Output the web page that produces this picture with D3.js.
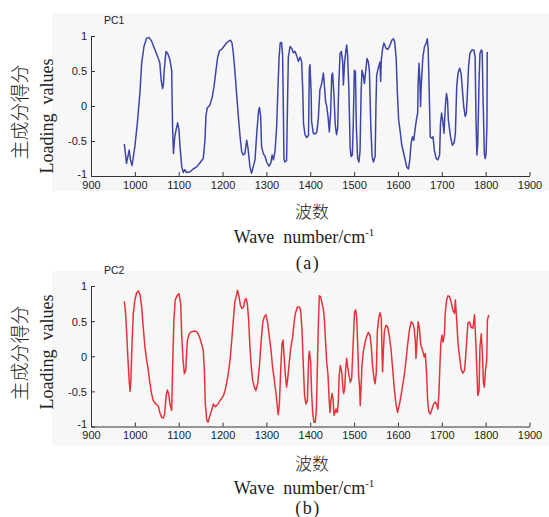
<!DOCTYPE html>
<html>
<head>
<meta charset="utf-8">
<script src="https://cdn.jsdelivr.net/npm/d3@7"></script>
<style>
  html, body { margin: 0; padding: 0; background: #ffffff; }
  svg { display: block; }
</style>
</head>
<body>
<svg id="chart" width="549" height="517"></svg>
<script>
// ---------- DATA ----------
const xTicks = [900, 1000, 1100, 1200, 1300, 1400, 1500, 1600, 1700, 1800, 1900];
const yTicks = [-1, -0.5, 0, 0.5, 1];
const yTickLabels = ["-1", "-0.5", "0", "0.5", "1"];

const pc1Wavenumbers = [976,981,987,990,993.5,1000,1005.6,1011.7,1015.5,1020.8,1027,1032,1038,1046,1053.5,1057,1060,1063,1065,1067,1071,1075,1080,1084,1086,1088,1091,1094,1097.6,1100.6,1103,1107,1110.6,1114,1118,1126,1133,1141,1148.6,1156,1160,1162,1165,1171,1176.6,1180.6,1185,1189,1193,1198,1203,1209,1215,1218,1221.6,1224.6,1228,1232,1236,1240,1243.6,1247,1251,1255,1258,1262.5,1266,1270,1274,1278,1282,1284,1287,1289,1293,1297,1300.6,1306,1310,1313,1316,1319.6,1323.4,1326,1329,1331.5,1334.5,1337,1338.6,1340,1342,1346,1348,1350,1354,1358,1361.5,1365,1369,1373,1377,1380.4,1383,1384.6,1388,1392,1396,1398,1399.4,1402,1403,1407,1411,1415,1418.4,1422,1426,1430,1432,1435,1437.5,1441,1443.5,1446.6,1449,1451,1454,1457,1460,1462.5,1465,1468,1471,1474,1475.5,1478,1481,1483,1485,1488,1491,1493,1496,1498,1500.5,1503,1505,1508,1511,1513.5,1516,1518,1521,1523.4,1526.4,1529.4,1532.5,1535,1538,1541,1544,1548,1550,1551.5,1555,1559,1560.6,1562,1565,1568,1573,1577,1582,1586,1589.5,1592.5,1596,1598.6,1601.6,1605,1608.5,1614,1620,1624,1627,1630,1633,1636,1639,1642,1645,1646,1648,1650,1651.5,1653,1656.8,1660.6,1664.4,1667,1669,1671,1673.6,1677,1680,1683,1687,1691,1695,1697,1699.5,1702,1705,1708,1710.6,1713,1715,1717,1720,1724,1728,1731,1734,1737,1740.6,1744,1747,1750,1753.4,1756,1758,1761,1764,1769,1773,1776,1778,1780,1782,1785,1787,1790,1792,1794.4,1797,1799,1801,1803,1803.6];
const pc1Loadings = [-0.54,-0.82,-0.63,-0.77,-0.85,-0.58,-0.25,0.2,0.61,0.85,0.97,0.98,0.93,0.8,0.68,0.61,0.37,0.25,0.3,0.51,0.78,0.75,0.66,0.51,-0.3,-0.68,-0.44,-0.34,-0.24,-0.34,-0.58,-0.87,-0.95,-0.91,-0.95,-0.94,-0.9,-0.87,-0.81,-0.75,-0.49,-0.15,-0.03,0.01,0.13,0.28,0.51,0.7,0.79,0.81,0.85,0.9,0.93,0.94,0.9,0.75,0.51,0.18,-0.15,-0.44,-0.65,-0.7,-0.68,-0.49,-0.6,-0.87,-0.96,-0.87,-0.77,-0.39,-0.08,-0.02,-0.15,-0.58,-0.68,-0.72,-0.8,-0.86,-0.82,-0.7,-0.77,-0.65,-0.3,0.2,0.7,0.9,0.91,0.73,-0.03,-0.75,-0.8,-0.78,-0.03,0.7,0.85,0.82,0.76,0.78,0.72,0.64,0.7,0.63,0.2,-0.25,-0.41,-0.45,-0.42,0.54,0.59,0.2,-0.22,-0.39,-0.4,-0.37,-0.18,0.23,0.32,0.47,0.32,0.06,0.0,-0.18,-0.37,-0.08,0.44,0.47,0.16,-0.27,-0.41,-0.32,0.3,0.75,0.78,0.63,0.3,0.59,0.78,0.87,0.75,0.25,-0.6,-0.72,-0.7,-0.27,0.51,0.49,-0.27,-0.75,-0.8,-0.65,0.2,0.51,0.44,0.32,0.49,0.68,0.63,0.49,-0.27,-0.72,-0.8,-0.72,0.06,0.44,0.54,0.63,0.35,0.66,0.82,0.9,0.82,0.81,0.87,0.94,0.96,0.92,0.68,0.2,-0.2,-0.36,-0.55,-0.7,-0.87,-0.9,-0.77,-0.53,-0.44,-0.49,-0.34,-0.2,-0.1,0.32,0.61,0.37,-0.01,0.28,0.7,0.85,0.9,0.96,0.8,0.28,-0.44,-0.46,-0.44,-0.63,-0.75,-0.77,-0.7,-0.25,-0.1,-0.2,-0.39,-0.01,0.18,0.09,-0.2,-0.3,-0.44,-0.56,-0.53,-0.39,0.28,0.47,0.54,0.47,0.23,-0.01,-0.15,-0.1,0.13,0.56,0.75,0.8,0.8,0.7,-0.2,-0.7,-0.53,0.37,0.75,0.8,0.78,0.04,-0.68,-0.75,-0.68,-0.25,0.77];

const pc2Wavenumbers = [976,979,981,984,987,989,991,993.5,996.5,1000,1004,1008,1012,1015.5,1019,1023,1027,1030.7,1034.5,1038,1042,1048,1053.5,1057,1061,1065,1068,1071,1074,1077,1080,1084,1086,1089,1092,1097,1100.6,1104.5,1107,1110,1113,1116,1118,1120,1124,1129.5,1137,1142.5,1147,1152,1156,1158.5,1160.7,1164,1167,1170,1173.6,1179,1183,1186.6,1190,1194,1198,1202,1205.6,1209,1213,1217,1221,1224.6,1228,1232,1234,1237.5,1240.6,1244,1248,1251,1253.5,1256.5,1259.6,1262.5,1265.5,1268.6,1272.5,1276,1280,1284,1287.6,1291.4,1295,1299,1303,1306.6,1310.5,1314,1318,1322,1325,1327,1329.6,1332.6,1335.6,1338,1340,1343,1346,1349,1352,1355,1360,1363,1366,1370.6,1375,1378,1381,1384.6,1387,1390,1393.5,1396.5,1398,1401,1403,1405.5,1408.5,1411.6,1414,1416,1418.4,1420.7,1423.7,1426.8,1429.8,1432,1435,1437.4,1440.5,1442.7,1445,1447,1449.6,1452,1454,1456.4,1458.7,1461.7,1464,1466,1468.6,1471.6,1474,1476,1478.5,1480.8,1483,1485.3,1488.3,1491.4,1494.4,1496.7,1499,1501,1503.6,1506,1508,1510.4,1512.7,1514,1515.7,1518,1521,1525,1528.6,1532.5,1536,1539,1542,1545.4,1548,1550.7,1553,1556,1559,1562,1563.6,1565,1566.6,1569,1572.7,1576.5,1580,1584,1588,1591.7,1595.5,1599,1603,1607,1610.7,1614.5,1618,1622,1626,1630,1633.5,1637,1640,1641,1643.4,1646,1649,1652,1655,1658,1660,1662.4,1665.5,1667.8,1670.8,1674,1677.6,1681.4,1685,1688,1691,1693.6,1696,1698,1700.5,1702.7,1705.8,1708,1711,1714,1717.5,1721,1725,1729,1731,1733.5,1737,1740.6,1744,1748,1752,1755.5,1759.5,1763,1767,1771,1774.6,1777,1780,1782,1785,1787,1790,1792.6,1795,1797,1799.6,1802.5,1804,1807];
const pc2Loadings = [0.78,0.61,0.37,-0.01,-0.34,-0.5,-0.34,0.18,0.61,0.8,0.9,0.93,0.87,0.7,0.42,0.13,-0.06,-0.2,-0.39,-0.53,-0.63,-0.68,-0.71,-0.8,-0.87,-0.88,-0.82,-0.58,-0.48,-0.53,-0.68,-0.77,-0.2,0.51,0.8,0.87,0.89,0.75,0.28,-0.06,-0.25,-0.2,0.04,0.23,0.32,0.35,0.36,0.34,0.28,0.18,0.09,-0.2,-0.68,-0.91,-0.94,-0.87,-0.8,-0.68,-0.72,-0.7,-0.68,-0.63,-0.6,-0.56,-0.49,-0.39,-0.25,-0.06,0.23,0.51,0.78,0.87,0.94,0.85,0.73,0.68,0.7,0.8,0.82,0.75,0.51,0.13,-0.15,-0.34,-0.44,-0.49,-0.39,-0.15,0.18,0.47,0.56,0.59,0.47,0.28,0.09,-0.15,-0.34,-0.53,-0.72,-0.83,-0.68,-0.2,0.18,0.23,0.04,-0.25,-0.44,-0.3,-0.1,0.09,0.28,0.47,0.61,0.7,0.7,0.66,0.4,-0.2,-0.55,-0.68,-0.63,0.0,0.07,-0.08,-0.51,-0.8,-0.94,-0.94,-0.75,-0.22,0.44,0.86,0.85,0.75,0.68,0.54,0.2,-0.08,-0.27,-0.56,-0.8,-0.65,-0.53,-0.6,-0.84,-0.8,-0.75,-0.8,-0.65,-0.27,-0.13,-0.22,-0.41,-0.53,-0.46,-0.18,-0.03,-0.15,-0.27,-0.37,-0.32,0.01,0.35,0.63,0.66,0.54,0.2,-0.27,-0.46,-0.7,-0.46,-0.13,0.06,0.2,0.28,0.34,0.3,0.16,-0.13,-0.32,-0.39,-0.22,0.35,0.54,0.62,0.54,0.06,-0.22,0.06,0.35,0.44,0.42,0.3,0.11,-0.18,-0.46,-0.68,-0.8,-0.7,-0.56,-0.41,-0.27,-0.08,0.16,0.37,0.49,0.47,0.4,0.18,-0.03,0.2,0.49,0.4,0.16,0.11,0.04,-0.01,0.04,-0.27,-0.65,-0.8,-0.82,-0.75,-0.68,-0.65,-0.68,-0.75,-0.51,-0.08,0.2,0.3,0.2,0.3,0.63,0.8,0.86,0.85,0.78,0.66,0.61,0.8,0.56,0.18,-0.01,-0.18,-0.24,-0.2,0.09,0.47,0.49,0.41,0.4,0.59,0.28,-0.2,-0.56,-0.49,0.13,0.32,0.04,-0.39,-0.44,-0.2,-0.06,0.51,0.59];

const panels = [
  { title: "PC1", wave: pc1Wavenumbers, values: pc1Loadings, color: "#3d45a6", caption: "(a)",
    top: 36, bottom: 176, bg: [13, 191], cnY: 112, enY: 116, xl1: 210, xl2: 237, cap: 263 },
  { title: "PC2", wave: pc2Wavenumbers, values: pc2Loadings, color: "#e6333b", caption: "(b)",
    top: 286, bottom: 426.5, bg: [271, 446], cnY: 353, enY: 352, xl1: 462, xl2: 488, cap: 508 }
];

// ---------- DRAW ----------
const svg = d3.select("#chart");
const x = d3.scaleLinear().domain([900, 1900]).range([91, 529.5]);

const serif = "'Liberation Serif', 'DejaVu Serif', serif";
const cjk = "'Noto Sans CJK SC', sans-serif";
const sans = "'Liberation Sans', Arial, sans-serif";

// backgrounds first so no panel covers another's captions
panels.forEach(p => {
  svg.append("rect").attr("x", 52).attr("y", p.bg[0]).attr("width", 497)
    .attr("height", p.bg[1] - p.bg[0]).attr("fill", "#f7f7f7");
});

panels.forEach(p => {
  const y = d3.scaleLinear().domain([-1, 1]).range([p.bottom, p.top]);
  const g = svg.append("g");

  const xAxis = d3.axisBottom(x).tickValues(xTicks).tickFormat(d3.format("d"))
    .tickSizeInner(-4).tickSizeOuter(0).tickPadding(5);
  const yAxis = d3.axisLeft(y).tickValues(yTicks).tickFormat((d, i) => yTickLabels[i])
    .tickSizeInner(-4).tickSizeOuter(0).tickPadding(4);

  const gx = g.append("g").attr("transform", `translate(0,${p.bottom})`).call(xAxis);
  const gy = g.append("g").attr("transform", `translate(${x(900)},0)`).call(yAxis);
  [gx, gy].forEach(a => {
    a.selectAll("path, line").attr("stroke", "#333").attr("stroke-width", 1);
    a.selectAll("text").attr("fill", "#222").style("font-family", sans).style("font-size", "11px");
  });
  gy.selectAll("text").attr("dy", (d) => d === -1 ? "0.1em" : "0.36em");

  const line = d3.line().x((d, i) => x(p.wave[i])).y(d => y(d));
  g.append("path").datum(p.values).attr("d", line).attr("fill", "none")
    .attr("stroke", p.color).attr("stroke-width", 1.5).attr("stroke-linejoin", "round");

  g.append("text").attr("x", 104).attr("y", p.top - 12).text(p.title)
    .style("font-family", sans).style("font-size", "10.5px").attr("fill", "#222");

  g.append("text").attr("transform", `translate(18,${p.cnY}) rotate(-90)`)
    .attr("text-anchor", "middle").attr("dominant-baseline", "central")
    .style("font-family", cjk).style("font-size", "19px").style("font-weight", "300")
    .attr("fill", "#222").text("主成分得分");
  g.append("text").attr("transform", `translate(47,${p.enY}) rotate(-90)`)
    .attr("text-anchor", "middle").attr("dominant-baseline", "central")
    .style("font-family", serif).style("font-size", "18px").attr("fill", "#222")
    .attr("xml:space", "preserve").text("Loading  values");

  g.append("text").attr("x", 312).attr("y", p.xl1).attr("text-anchor", "middle")
    .attr("dominant-baseline", "central").style("font-family", cjk).style("font-size", "17px")
    .style("font-weight", "300").attr("fill", "#222").text("波数");
  const t = g.append("text").attr("x", 304).attr("y", p.xl2).attr("text-anchor", "middle")
    .attr("dominant-baseline", "central").style("font-family", serif).style("font-size", "18px")
    .attr("fill", "#222").attr("xml:space", "preserve");
  t.append("tspan").text("Wave  number/cm");
  t.append("tspan").attr("dy", "-0.45em").style("font-size", "11px").text("-1");
  g.append("text").attr("x", 308).attr("y", p.cap).attr("text-anchor", "middle")
    .attr("dominant-baseline", "central").style("font-family", serif).style("font-size", "18px")
    .attr("letter-spacing", "1.5px").attr("fill", "#222").text(p.caption);
});
</script>
</body>
</html>
